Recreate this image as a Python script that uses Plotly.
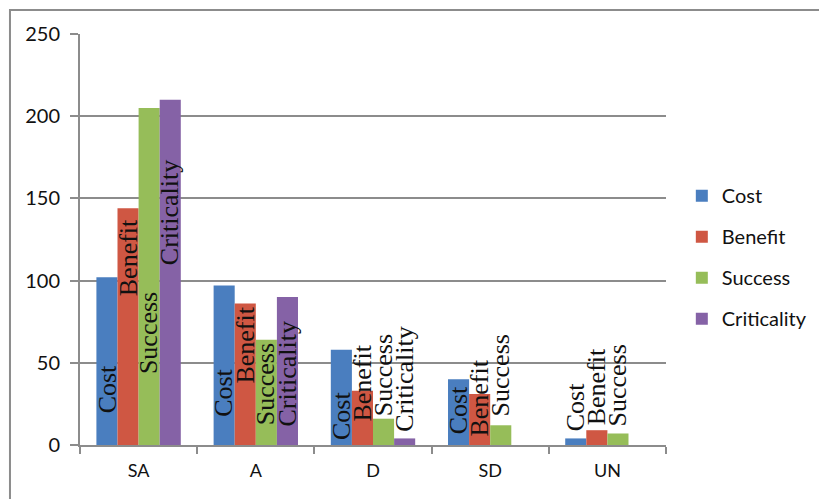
import plotly.graph_objects as go

# Survey responses per answer category
categories = ["SA", "A", "D", "SD", "UN"]
series_names = ["Cost", "Benefit", "Success", "Criticality"]
cost = [102, 97, 58, 40, 4]
benefit = [144, 86, 33, 31, 9]
success = [205, 64, 16, 12, 7]
criticality = [210, 90, 4, 0, 0]
y_ticks = [0, 50, 100, 150, 200, 250]

# Height (in data units) where each in-bar name label starts
label_base = [
    [18, 16, 2, 5, 7],
    [89, 36, 13, 4, 11],
    [42, 11, 16, 16, 10],
    [108, 10, 7, 0, 0],
]

colors = ["#4a7ebf", "#cf5743", "#96bd59", "#8562a6"]
values = [cost, benefit, success, criticality]

BARGAP = 0.28
plot_w = 586
cat_px = plot_w / len(categories)
bar_px = cat_px * (1 - BARGAP) / len(series_names)

fig = go.Figure()
for i, (name, vals, col) in enumerate(zip(series_names, values, colors)):
    fig.add_trace(go.Bar(
        x=categories, y=vals, name=name, marker_color=col,
        marker_line_width=0, legendgroup=name,
    ))
    for j, cat in enumerate(categories):
        if vals[j] <= 0:
            continue
        fig.add_annotation(
            x=cat, y=label_base[i][j], xref="x", yref="y",
            xshift=(i - 1.5) * bar_px,
            text=name, textangle=-90, showarrow=False,
            xanchor="center", yanchor="bottom",
            font=dict(family="Liberation Serif", size=26, color="#111111"),
        )

grid_col = "#8c8c8c"
fig.update_layout(
    width=819, height=499,
    margin=dict(l=80, r=153, t=34, b=54, autoexpand=False),
    paper_bgcolor="white", plot_bgcolor="white",
    barmode="group", bargap=BARGAP, bargroupgap=0,
    font=dict(family="Lato", size=18, color="#111111"),
    legend=dict(
        x=1.027, xanchor="left", y=0.457, yanchor="middle",
        font=dict(family="Lato", size=20, color="#111111"),
        tracegroupgap=12, bgcolor="rgba(0,0,0,0)",
    ),
    xaxis=dict(
        showgrid=False, showline=True, linecolor=grid_col, linewidth=2,
        ticks="outside", tickson="boundaries", ticklen=7, tickwidth=2,
        tickcolor=grid_col, ticklabelstandoff=8,
        tickfont=dict(family="Lato", size=18),
    ),
    yaxis=dict(
        range=[0, 250], tickvals=y_ticks,
        showgrid=True, gridcolor=grid_col, gridwidth=2,
        showline=True, linecolor=grid_col, linewidth=2,
        ticks="outside", ticklen=8, tickwidth=2, tickcolor=grid_col,
        ticklabelstandoff=6, zeroline=False,
        tickfont=dict(family="Lato", size=20),
    ),
)

# Chart-area frame
fig.add_shape(
    type="rect", xref="paper", yref="paper",
    x0=-0.1195, y0=-0.3, x1=1.5, y1=1.0584,
    line=dict(color=grid_col, width=2), layer="below",
)

fig.write_html("out.html")
